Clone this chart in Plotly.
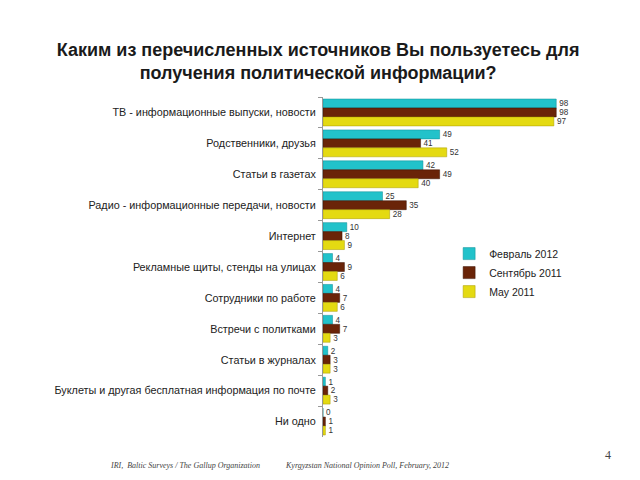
import plotly.graph_objects as go

categories = [
    "ТВ - информационные выпуски, новости",
    "Родственники, друзья",
    "Статьи в газетах",
    "Радио - информационные передачи, новости",
    "Интернет",
    "Рекламные щиты, стенды на улицах",
    "Сотрудники по работе",
    "Встречи с политками",
    "Статьи в журналах",
    "Буклеты и другая бесплатная информация по почте",
    "Ни одно",
]
feb_2012 = [98, 49, 42, 25, 10, 4, 4, 4, 2, 1, 0]
sep_2011 = [98, 41, 49, 35, 8, 9, 7, 7, 3, 2, 1]
may_2011 = [97, 52, 40, 28, 9, 6, 6, 3, 3, 3, 1]
series_names = ["Февраль 2012", "Сентябрь 2011", "May 2011"]
colors = ["#22C2CA", "#6A2408", "#E4DA12"]
line_colors = ["#0E8C94", "#3A1000", "#A89A00"]

fig = go.Figure()
for name, vals, c, lc in zip(series_names, [feb_2012, sep_2011, may_2011], colors, line_colors):
    fig.add_trace(go.Bar(
        y=categories, x=vals, name=name, orientation="h",
        marker=dict(color=c, line=dict(color=lc, width=0.5)),
        text=[str(v) for v in vals], textposition="outside",
        textfont=dict(family="Liberation Sans, Arial", size=10, color="#333333"),
        cliponaxis=False,
    ))

fig.update_layout(
    width=640, height=480,
    paper_bgcolor="white", plot_bgcolor="white",
    margin=dict(l=323, r=79, t=97, b=43, autoexpand=False),
    barmode="group", bargap=0.13, bargroupgap=0,
    title=dict(
        text="Каким из перечисленных источников Вы пользуетесь для<br>получения политической информации?",
        x=0.497, xref="container", xanchor="center",
        y=0.884, yref="container", yanchor="middle",
        font=dict(family="Liberation Sans, Arial", size=18, color="#1a1a1a", weight="bold"),
    ),
    xaxis=dict(range=[0, 100], visible=False, showgrid=False),
    yaxis=dict(
        autorange="reversed", showline=True, linecolor="#999999", linewidth=1,
        ticks="outside", ticklen=4, tickcolor="#999999", tickson="boundaries",
        ticklabelstandoff=4,
        tickfont=dict(family="Liberation Sans, Arial", size=10.8, color="#222222"),
        showgrid=False, automargin=False,
    ),
    legend=dict(
        x=0.53, y=0.582, xanchor="left", yanchor="top",
        font=dict(family="Liberation Sans, Arial", size=10.5, color="#222222"),
        bgcolor="rgba(0,0,0,0)", itemwidth=30, tracegroupgap=0,
    ),
    showlegend=True,
)

fy = -(465 - 437) / 340
fig.add_annotation(
    text="<i>IRI,  Baltic Surveys / The Gallup Organization</i>",
    xref="x domain", yref="y domain", x=(108 - 323) / 238, y=fy,
    xanchor="left", yanchor="middle", showarrow=False,
    font=dict(family="Liberation Serif, Times New Roman", size=8, color="#444444"),
)
fig.add_annotation(
    text="<i>Kyrgyzstan National Opinion Poll, February, 2012</i>",
    xref="x domain", yref="y domain", x=(283 - 323) / 238, y=fy,
    xanchor="left", yanchor="middle", showarrow=False,
    font=dict(family="Liberation Serif, Times New Roman", size=8, color="#444444"),
)
fig.add_annotation(
    text="4",
    xref="x domain", yref="y domain", x=(608 - 323) / 238, y=-(455 - 437) / 340,
    xanchor="center", yanchor="middle", showarrow=False,
    font=dict(family="Liberation Serif, Times New Roman", size=12, color="#444444"),
)

fig.write_html("out.html", config={"displayModeBar": False},
               post_script="document.body.style.margin='0';")
